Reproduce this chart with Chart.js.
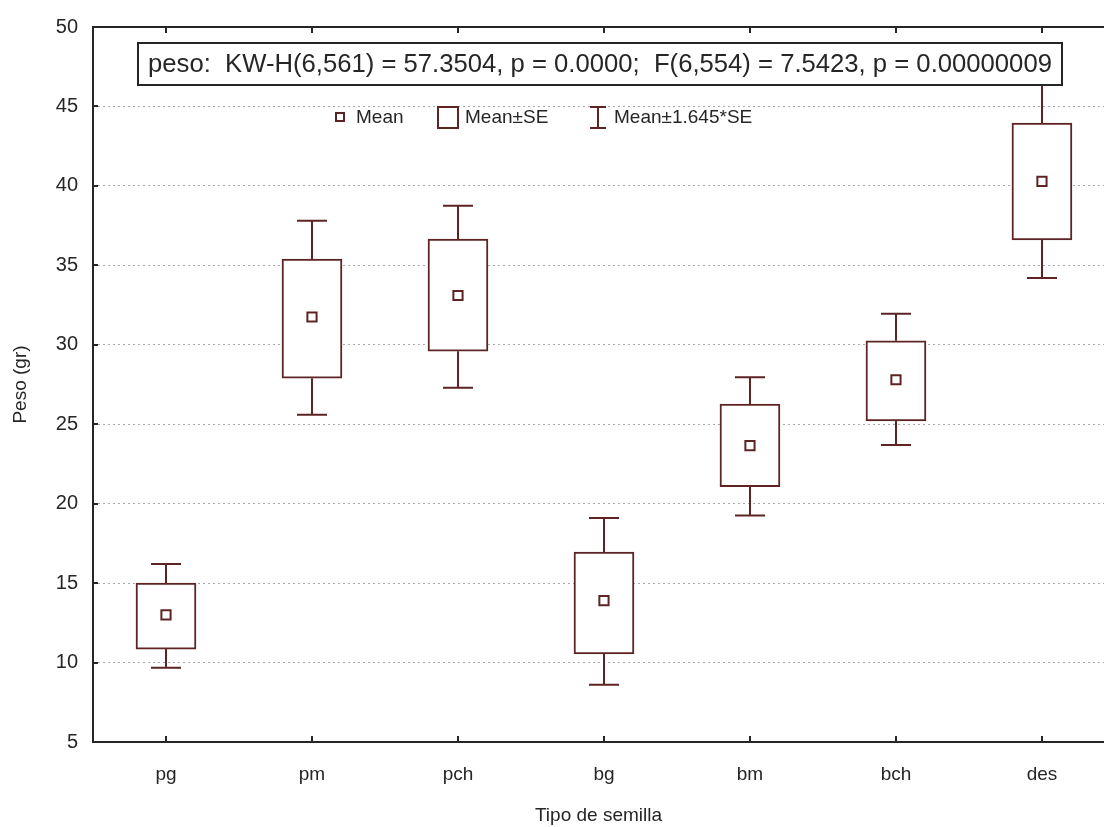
<!DOCTYPE html>
<html>
<head>
<meta charset="utf-8">
<script src="https://cdn.jsdelivr.net/npm/chart.js@4"></script>
<style>
  html, body { margin: 0; padding: 0; background: #fff; }
  #wrap { width: 1104px; height: 827px; }
</style>
</head>
<body>
<div id="wrap"><canvas id="pesoChart" width="1104" height="827"></canvas></div>
<script>
// values
var categories = ['pg', 'pm', 'pch', 'bg', 'bm', 'bch', 'des'];
var means  = [13.0, 31.75, 33.1, 13.9, 23.65, 27.8, 40.28];
var seLow  = [10.85, 27.9, 29.6, 10.55, 21.07, 25.2, 36.6];
var seHigh = [15.0, 35.4, 36.65, 16.95, 26.27, 30.25, 43.96];
var ciLow  = [9.68, 25.6, 27.3, 8.6, 19.25, 23.7, 34.2];
var ciHigh = [16.2, 37.8, 38.75, 19.1, 27.95, 31.95, 46.4];
var yTicks = [5, 10, 15, 20, 25, 30, 35, 40, 45, 50];

var statText = 'peso:  KW-H(6,561) = 57.3504, p = 0.0000;  F(6,554) = 7.5423, p = 0.00000009';

var markColor = '#5e2424';
var inkColor = '#262626';
var fontFamily = '"Liberation Sans", Arial, sans-serif';

var boxData = [];
var meanData = [];
for (var i = 0; i < categories.length; i++) {
    boxData.push({ x: i + 1, y: [seLow[i], seHigh[i]] });
    meanData.push({ x: i + 1, y: means[i] });
}

// whiskers (Mean +- 1.645*SE), frame with inward ticks
var whiskerPlugin = {
    id: 'whiskers',
    afterDatasetsDraw: function(chart) {
        var ctx = chart.ctx;
        var xs = chart.scales.x;
        var ys = chart.scales.y;
        ctx.save();
        ctx.strokeStyle = markColor;
        ctx.lineWidth = 2;
        for (var i = 0; i < categories.length; i++) {
            var px = Math.round(xs.getPixelForValue(i + 1));
            var yTop = ys.getPixelForValue(ciHigh[i]);
            var yBoxTop = ys.getPixelForValue(seHigh[i]);
            var yBot = ys.getPixelForValue(ciLow[i]);
            var yBoxBot = ys.getPixelForValue(seLow[i]);
            ctx.beginPath();
            ctx.moveTo(px, yBoxTop); ctx.lineTo(px, yTop);
            ctx.moveTo(px - 15, yTop); ctx.lineTo(px + 15, yTop);
            ctx.moveTo(px, yBoxBot); ctx.lineTo(px, yBot);
            ctx.moveTo(px - 15, yBot); ctx.lineTo(px + 15, yBot);
            ctx.stroke();
        }
        ctx.restore();
    },
    afterDraw: function(chart) {
        var ctx = chart.ctx;
        var a = chart.chartArea;
        var xs = chart.scales.x;
        var ys = chart.scales.y;
        ctx.save();
        ctx.strokeStyle = inkColor;
        ctx.lineWidth = 2;
        ctx.beginPath();
        ctx.moveTo(a.right, a.top); ctx.lineTo(a.left, a.top);
        ctx.lineTo(a.left, a.bottom); ctx.lineTo(a.right, a.bottom);
        ctx.stroke();
        ctx.beginPath();
        for (var i = 0; i < categories.length; i++) {
            var px = Math.round(xs.getPixelForValue(i + 1));
            ctx.moveTo(px, a.bottom); ctx.lineTo(px, a.bottom - 6);
            ctx.moveTo(px, a.top); ctx.lineTo(px, a.top + 6);
        }
        for (var j = 1; j < yTicks.length - 1; j++) {
            var py = Math.round(ys.getPixelForValue(yTicks[j]));
            ctx.moveTo(a.left, py); ctx.lineTo(a.left + 5, py);
        }
        ctx.stroke();

        // statistics box
        ctx.font = '20px ' + fontFamily;
        var w = ctx.measureText(statText).width;
        var fs = 20 * 904 / w;
        ctx.font = fs + 'px ' + fontFamily;
        ctx.fillStyle = '#fff';
        ctx.fillRect(138, 43, 924, 42);
        ctx.strokeRect(138, 43, 924, 42);
        ctx.fillStyle = inkColor;
        ctx.textBaseline = 'middle';
        ctx.textAlign = 'center';
        ctx.fillText(statText, 600, 65);

        // legend
        ctx.font = '19px ' + fontFamily;
        ctx.textAlign = 'left';
        ctx.strokeStyle = markColor;
        ctx.strokeRect(336, 113, 8, 8);
        ctx.fillText('Mean', 356, 118);
        ctx.strokeRect(438, 107, 20, 21);
        ctx.fillText('Mean\u00b1SE', 465, 118);
        ctx.beginPath();
        ctx.moveTo(598, 107); ctx.lineTo(598, 128);
        ctx.moveTo(590, 107); ctx.lineTo(606, 107);
        ctx.moveTo(590, 128); ctx.lineTo(606, 128);
        ctx.stroke();
        ctx.fillText('Mean\u00b11.645*SE', 614, 118);
        ctx.restore();
    }
};

var ctx = document.getElementById('pesoChart').getContext('2d');
var pesoChart = new Chart(ctx, {
    data: {
        datasets: [{
            type: 'scatter',
            label: 'Mean',
            data: meanData,
            pointStyle: 'rect',
            pointRadius: 6.5,
            pointBorderWidth: 2,
            pointBackgroundColor: '#fff',
            pointBorderColor: markColor,
            order: 0
        }, {
            type: 'bar',
            label: 'Mean\u00b1SE',
            data: boxData,
            backgroundColor: '#fff',
            borderColor: markColor,
            borderWidth: 2,
            borderSkipped: false,
            barThickness: 60,
            grouped: false,
            order: 1
        }]
    },
    options: {
        responsive: false,
        animation: false,
        events: [],
        layout: { autoPadding: false, padding: { top: 27, right: 0, left: 0, bottom: 0 } },
        plugins: {
            legend: { display: false },
            tooltip: { enabled: false }
        },
        scales: {
            x: {
                type: 'linear',
                offset: false,
                min: 0.5,
                max: 7.425,
                afterBuildTicks: function(scale) {
                    scale.ticks = categories.map(function(c, i) { return { value: i + 1 }; });
                },
                afterFit: function(scale) {
                    scale.height = 85;
                    scale.paddingLeft = 0;
                    scale.paddingRight = 0;
                },
                ticks: {
                    autoSkip: false,
                    maxRotation: 0,
                    padding: 13,
                    color: inkColor,
                    font: { family: fontFamily, size: 19 },
                    callback: function(v) { return categories[v - 1]; }
                },
                grid: { display: false },
                border: { display: false },
                title: {
                    display: true,
                    text: 'Tipo de semilla',
                    color: inkColor,
                    font: { family: fontFamily, size: 19 },
                    padding: 0
                }
            },
            y: {
                min: 5,
                max: 50,
                afterBuildTicks: function(scale) {
                    scale.ticks = yTicks.map(function(v) { return { value: v }; });
                },
                afterFit: function(scale) { scale.width = 93; },
                ticks: {
                    padding: 15,
                    color: inkColor,
                    font: { family: fontFamily, size: 20 }
                },
                grid: {
                    drawTicks: false,
                    lineWidth: 1,
                    color: function(c) {
                        var v = c.tick ? c.tick.value : 0;
                        return (v === 5 || v === 50) ? 'rgba(0,0,0,0)' : '#a8a8a8';
                    }
                },
                border: { display: false, dash: [2, 3] },
                title: {
                    display: true,
                    text: 'Peso (gr)',
                    color: inkColor,
                    font: { family: fontFamily, size: 19 },
                    padding: { top: 9, bottom: 0 }
                }
            }
        }
    },
    plugins: [whiskerPlugin]
});
</script>
</body>
</html>
